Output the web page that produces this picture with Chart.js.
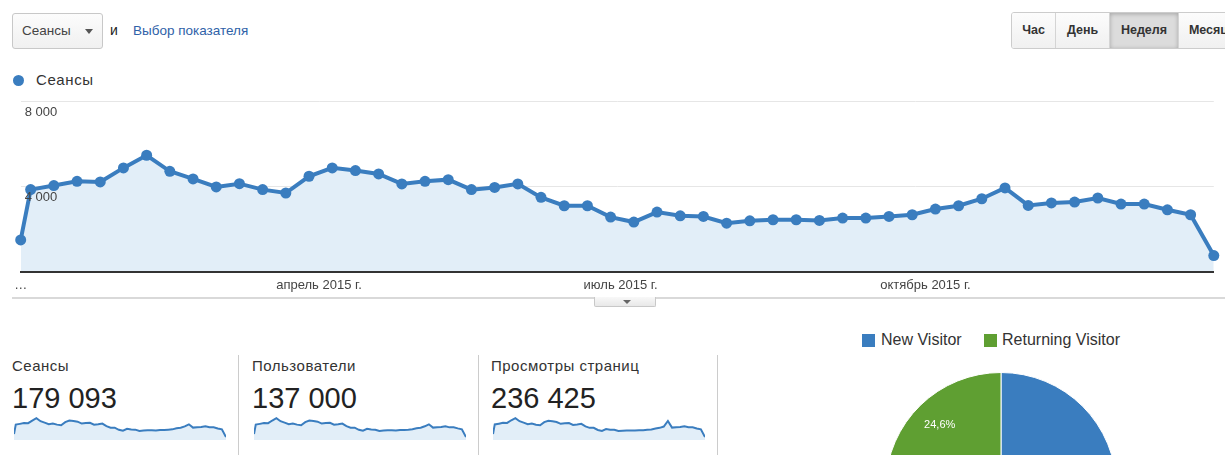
<!DOCTYPE html>
<html lang="ru">
<head>
<meta charset="utf-8">
<script src="https://cdn.jsdelivr.net/npm/chart.js@4.4.1/dist/chart.umd.min.js"></script>
<style>
  html, body { margin: 0; padding: 0; width: 1225px; height: 455px; overflow: hidden; background: #fff;
    font-family: "Liberation Sans", Arial, Helvetica, sans-serif; color: #333; }
  .abs { position: absolute; }
  .select { left: 12px; top: 13px; width: 91px; height: 36px; box-sizing: border-box; border: 1px solid #c8c8c8;
    border-radius: 3px; background: linear-gradient(#fcfcfc, #f0f0f0); font-size: 13.5px; color: #444; }
  .select span { position: absolute; left: 9px; top: 9px; }
  .caret { position: absolute; left: 72px; top: 15px; width: 0; height: 0; border-left: 4px solid transparent;
    border-right: 4px solid transparent; border-top: 5px solid #555; }
  .btns { left: 1011px; top: 12px; height: 37px; display: flex; border: 1px solid #ccc; border-radius: 3px;
    box-sizing: border-box; overflow: hidden; }
  .btns div { height: 35px; line-height: 35px; text-align: center; font-size: 12.5px; font-weight: bold; color: #333;
    background: linear-gradient(#fcfcfc, #f0f0f0); border-right: 1px solid #d4d4d4; box-sizing: border-box; }
  .btns div.on { background: #dcdcdc; box-shadow: inset 0 1px 4px rgba(0,0,0,.25); }
  .card-label { font-size: 15px; letter-spacing: 0.5px; color: #333; }
  .card-value { font-size: 29px; color: #222; }
  .sep { width: 1px; background: #ccc; top: 355px; height: 100px; }
  .sq { width: 13px; height: 13px; }
  .leg { font-size: 16px; color: #333; }
</style>
</head>
<body>
<div class="abs select"><span>Сеансы</span><div class="caret"></div></div>
<div class="abs" style="left:110px; top:22px; font-size:14px; color:#222;">и</div>
<div class="abs" style="left:133px; top:23px; font-size:13.5px; color:#2f62a8;">Выбор показателя</div>

<div class="abs btns">
  <div style="width:44px">Час</div>
  <div style="width:54px">День</div>
  <div class="on" style="width:69px">Неделя</div>
  <div style="width:60px">Месяц</div>
</div>

<div class="abs" style="left:12.5px; top:74.5px; width:11px; height:11px; border-radius:50%; background:#3a7dbf;"></div>
<div class="abs" style="left:36px; top:71px; font-size:15px; letter-spacing:0.6px; color:#333;">Сеансы</div>

<div class="abs" style="left:0; top:90px; width:1225px; height:215px;"><canvas id="mainChart"></canvas></div>

<div class="abs" style="left:12px; top:297px; width:1213px; height:2px; background:#d9d9d9;"></div>
<div class="abs" style="left:594px; top:297px; width:62px; height:10px; box-sizing:border-box; border:1px solid #c8c8c8; border-top:none; border-radius:0 0 2px 2px; background:linear-gradient(#f8f8f8,#e8e8e8);">
  <div class="abs" style="left:28px; top:3px; width:0; height:0; border-left:4px solid transparent; border-right:4px solid transparent; border-top:4px solid #666;"></div>
</div>

<div id="cards"></div>
<div class="abs sep" style="left:238px"></div>
<div class="abs sep" style="left:478px"></div>
<div class="abs sep" style="left:717px"></div>

<div class="abs sq" style="left:862px; top:334px; background:#3a7dbf;"></div>
<div class="abs leg" style="left:881px; top:331px;">New Visitor</div>
<div class="abs sq" style="left:984px; top:334px; background:#5f9f32;"></div>
<div class="abs leg" style="left:1002px; top:331px;">Returning Visitor</div>
<div class="abs" style="left:885px; top:372px; width:232px; height:232px;"><canvas id="pieChart"></canvas></div>

<script>
// --- данные ---
const weekStarts = [
  '2015-01-01', '2015-01-04', '2015-01-11', '2015-01-18', '2015-01-25',
  '2015-02-01', '2015-02-08', '2015-02-15', '2015-02-22',
  '2015-03-01', '2015-03-08', '2015-03-15', '2015-03-22', '2015-03-29',
  '2015-04-05', '2015-04-12', '2015-04-19', '2015-04-26',
  '2015-05-03', '2015-05-10', '2015-05-17', '2015-05-24', '2015-05-31',
  '2015-06-07', '2015-06-14', '2015-06-21', '2015-06-28',
  '2015-07-05', '2015-07-12', '2015-07-19', '2015-07-26',
  '2015-08-02', '2015-08-09', '2015-08-16', '2015-08-23', '2015-08-30',
  '2015-09-06', '2015-09-13', '2015-09-20', '2015-09-27',
  '2015-10-04', '2015-10-11', '2015-10-18', '2015-10-25',
  '2015-11-01', '2015-11-08', '2015-11-15', '2015-11-22', '2015-11-29',
  '2015-12-06', '2015-12-13', '2015-12-20', '2015-12-27'
];
const sessions = [
  1490, 3860, 4050, 4250, 4220, 4885, 5480, 4725, 4365,
  3985, 4140, 3860, 3700, 4490, 4885, 4760, 4600, 4130,
  4250, 4330, 3860, 3965, 4130, 3495, 3100, 3100, 2565,
  2330, 2800, 2625, 2595, 2280, 2390, 2440, 2440, 2405,
  2520, 2520, 2595, 2675, 2945, 3100, 3430, 3940, 3115,
  3230, 3275, 3465, 3180, 3180, 2910, 2675, 750
];
const users = [
  1140, 2950, 3100, 3250, 3230, 3740, 4190, 3610, 3340,
  3050, 3170, 2950, 2830, 3430, 3740, 3640, 3520, 3160,
  3250, 3310, 2950, 3030, 3160, 2670, 2370, 2370, 1960,
  1780, 2140, 2010, 1980, 1750, 1830, 1870, 1870, 1840,
  1930, 1930, 1980, 2050, 2250, 2370, 2630, 3010, 2380,
  2470, 2510, 2650, 2430, 2430, 2230, 2050, 570
];
const pageviews = [
  1970, 5090, 5340, 5610, 5570, 6450, 7130, 6140, 5670,
  5180, 5380, 5010, 4810, 5830, 6250, 6090, 5890, 5280,
  5440, 5540, 4940, 5080, 5280, 4470, 3970, 3970, 3280,
  2980, 3590, 3360, 3320, 2920, 3060, 3120, 3120, 3080,
  3220, 3220, 3320, 3420, 3770, 3970, 4390, 6200, 4050,
  4200, 4260, 4500, 4140, 4140, 3780, 3480, 970
];
const monthTicks = ['2015-01-01', '2015-04-01', '2015-07-01', '2015-10-01'];
const monthLabels = ['…', 'апрель 2015 г.', 'июль 2015 г.', 'октябрь 2015 г.'];
const yTicks = [0, 4000, 8000];
const cardNames = ['Сеансы', 'Пользователи', 'Просмотры страниц'];
const cardTotals = ['179 093', '137 000', '236 425'];
const visitorTypes = ['New Visitor', 'Returning Visitor'];
const visitorShares = [75.4, 24.6];

const BLUE = '#3a7dbf';
const GREEN = '#5f9f32';
const FILL = '#e2eef8';
const FONT = '"Liberation Sans", Arial, sans-serif';

const dayOf = s => (Date.parse(s) - Date.parse('2015-01-01')) / 864e5;
const toPoints = arr => arr.map((v, i) => ({ x: dayOf(weekStarts[i]), y: v }));
const fmt = v => String(v).replace(/\B(?=(\d{3})+(?!\d))/g, ' ');

// --- основной график ---
new Chart(document.getElementById('mainChart'), {
    type: 'line',
    data: {
        datasets: [{
            data: toPoints(sessions),
            borderColor: BLUE,
            backgroundColor: FILL,
            fill: 'origin',
            borderWidth: 4,
            pointRadius: 5.5,
            pointBackgroundColor: BLUE,
            pointBorderWidth: 0,
            tension: 0,
            clip: false
        }]
    },
    options: {
        responsive: true,
        maintainAspectRatio: false,
        animation: false,
        events: [],
        layout: { padding: { left: 20.7, right: 11.2, top: 11.7, bottom: 8.5 } },
        plugins: { legend: { display: false }, tooltip: { enabled: false } },
        scales: {
            x: {
                type: 'linear', min: 0, max: 360,
                afterFit: s => { s.height = 25; },
                afterBuildTicks: s => { s.ticks = monthTicks.map(d => ({ value: dayOf(d) })); },
                grid: { display: false, drawTicks: false },
                border: { display: true, color: '#333', width: 2, z: 1 },
                ticks: {
                    padding: 6, color: '#444', maxRotation: 0, autoSkip: false,
                    font: { size: 13, family: FONT },
                    callback: (v, i) => monthLabels[i]
                }
            },
            y: {
                min: 0, max: 8000,
                afterFit: s => { s.width = 0; },
                afterBuildTicks: s => { s.ticks = yTicks.map(v => ({ value: v })); },
                grid: { color: '#e6e6e6', drawTicks: false },
                border: { display: false },
                ticks: {
                    z: 1, mirror: true, padding: 4, labelOffset: 10.5, color: '#444',
                    font: { size: 13, family: FONT },
                    callback: v => v === 0 ? '' : fmt(v)
                }
            }
        }
    }
});

// --- карточки со спарклайнами ---
const cardsEl = document.getElementById('cards');
const cardX = [12, 252, 491];
[sessions, users, pageviews].forEach((series, i) => {
    const x = cardX[i];
    cardsEl.insertAdjacentHTML('beforeend',
        `<div class="abs card-label" style="left:${x}px; top:357px;">${cardNames[i]}</div>` +
        `<div class="abs card-value" style="left:${x}px; top:382px;">${cardTotals[i]}</div>` +
        `<div class="abs" style="left:${x + 2}px; top:416px; width:212px; height:24px;"><canvas id="spark${i}"></canvas></div>`);
    new Chart(document.getElementById('spark' + i), {
        type: 'line',
        data: {
            datasets: [{
                data: toPoints(series),
                borderColor: BLUE, borderWidth: 2,
                backgroundColor: FILL, fill: 'origin',
                pointRadius: 0, tension: 0
            }]
        },
        options: {
            responsive: true, maintainAspectRatio: false, animation: false, events: [],
            plugins: { legend: { display: false }, tooltip: { enabled: false } },
            scales: {
                x: { type: 'linear', display: false, min: 0, max: 360 },
                y: { display: false, min: 0, max: Math.max(...series) * 1.1 }
            }
        }
    });
});

// --- круговая диаграмма ---
const pieLabels = {
    id: 'pieLabels',
    afterDatasetsDraw(chart) {
        const { ctx } = chart;
        ctx.save();
        ctx.fillStyle = '#fff';
        ctx.font = '11px ' + FONT;
        ctx.textAlign = 'center';
        ctx.textBaseline = 'middle';
        chart.getDatasetMeta(0).data.forEach((arc, i) => {
            const p = arc.getProps(['x', 'y', 'startAngle', 'endAngle', 'outerRadius'], true);
            const a = (p.startAngle + p.endAngle) / 2;
            const r = p.outerRadius * 0.76;
            ctx.fillText(visitorShares[i].toFixed(1).replace('.', ',') + '%', p.x + Math.cos(a) * r, p.y + Math.sin(a) * r);
        });
        ctx.restore();
    }
};

new Chart(document.getElementById('pieChart'), {
    type: 'pie',
    data: {
        labels: visitorTypes,
        datasets: [{ data: visitorShares, backgroundColor: [BLUE, GREEN], borderColor: '#fff', borderWidth: 1 }]
    },
    options: {
        responsive: true, maintainAspectRatio: false, animation: false, events: [],
        plugins: { legend: { display: false }, tooltip: { enabled: false } }
    },
    plugins: [pieLabels]
});
</script>
</body>
</html>
